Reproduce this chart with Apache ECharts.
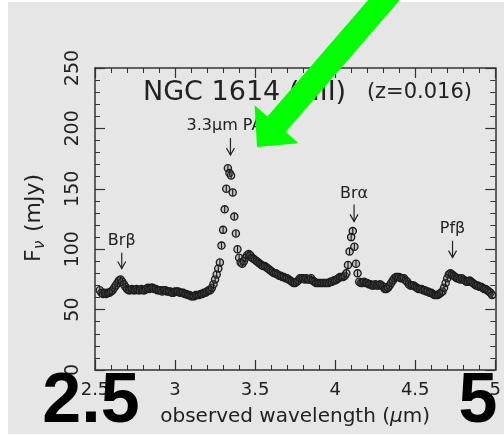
<!DOCTYPE html>
<html>
<head>
<meta charset="utf-8">
<style>
  html, body { margin: 0; padding: 0; background: #ffffff; }
  #chart { width: 504px; height: 435px; }
</style>
<script src="https://cdn.jsdelivr.net/npm/echarts@6/dist/echarts.min.js"></script>
</head>
<body>
<div id="chart"></div>
<script>
// Observed-frame spectrum of NGC 1614, 2.5-5 micron
const wavelengths = [
  2.53, 2.54, 2.55, 2.56, 2.57, 2.58, 2.59,
  2.60, 2.61, 2.62, 2.63, 2.64, 2.65, 2.66, 2.67, 2.68, 2.69,
  2.70, 2.71, 2.72, 2.73, 2.74, 2.75, 2.76, 2.77, 2.78, 2.79,
  2.80, 2.81, 2.82, 2.83, 2.84, 2.85, 2.86, 2.87, 2.88, 2.89,
  2.90, 2.91, 2.92, 2.93, 2.94, 2.95, 2.96, 2.97, 2.98, 2.99,
  3.00, 3.01, 3.02, 3.03, 3.04, 3.05, 3.06, 3.07, 3.08, 3.09,
  3.10, 3.11, 3.12, 3.13, 3.14, 3.15, 3.16, 3.17, 3.18, 3.19,
  3.20, 3.21, 3.22, 3.23, 3.24, 3.25, 3.26, 3.27, 3.28, 3.29,
  3.30, 3.31, 3.32, 3.33, 3.34, 3.35, 3.36, 3.37, 3.38, 3.39,
  3.40, 3.41, 3.42, 3.43, 3.44, 3.45, 3.46, 3.47, 3.48, 3.49,
  3.50, 3.51, 3.52, 3.53, 3.54, 3.55, 3.56, 3.57, 3.58, 3.59,
  3.60, 3.61, 3.62, 3.63, 3.64, 3.65, 3.66, 3.67, 3.68, 3.69,
  3.70, 3.71, 3.72, 3.73, 3.74, 3.75, 3.76, 3.77, 3.78, 3.79,
  3.80, 3.81, 3.82, 3.83, 3.84, 3.85, 3.86, 3.87, 3.88, 3.89,
  3.90, 3.91, 3.92, 3.93, 3.94, 3.95, 3.96, 3.97, 3.98, 3.99,
  4.00, 4.01, 4.02, 4.03, 4.04, 4.05, 4.06, 4.07, 4.08, 4.09,
  4.10, 4.11, 4.12, 4.13, 4.14, 4.15, 4.16, 4.17, 4.18, 4.19,
  4.20, 4.21, 4.22, 4.23, 4.24, 4.25, 4.26, 4.27, 4.28, 4.29,
  4.30, 4.31, 4.32, 4.33, 4.34, 4.35, 4.36, 4.37, 4.38, 4.39,
  4.40, 4.41, 4.42, 4.43, 4.44, 4.45, 4.46, 4.47, 4.48, 4.49,
  4.50, 4.51, 4.52, 4.53, 4.54, 4.55, 4.56, 4.57, 4.58, 4.59,
  4.60, 4.61, 4.62, 4.63, 4.64, 4.65, 4.66, 4.67, 4.68, 4.69,
  4.70, 4.71, 4.72, 4.73, 4.74, 4.75, 4.76, 4.77, 4.78, 4.79,
  4.80, 4.81, 4.82, 4.83, 4.84, 4.85, 4.86, 4.87, 4.88, 4.89,
  4.90, 4.91, 4.92, 4.93, 4.94, 4.95, 4.96, 4.97, 4.98
];

// Flux density F_nu in mJy at each wavelength
const fluxMJy = [
  66, 64, 63, 64, 63, 64, 64,
  65, 66, 68, 70, 72, 74, 75, 73, 71, 69,
  67, 66, 66, 67, 66, 66, 67, 66, 66, 67,
  66, 66, 67, 68, 67, 68, 68, 67, 67, 66,
  66, 66, 65, 66, 66, 65, 65, 65, 64, 64,
  65, 65, 65, 64, 64, 64, 63, 63, 62, 62,
  61, 61, 61, 62, 62, 62, 63, 63, 64, 64,
  65, 66, 66, 68, 71, 75, 79, 84, 89, 103,
  116, 133, 150, 167, 163, 161, 147, 127, 113, 100,
  93, 89, 88, 90, 93, 95, 96, 95, 93, 92,
  91, 90, 89, 88, 87, 86, 86, 85, 84, 83,
  82, 81, 80, 80, 79, 78, 78, 77, 77, 76,
  76, 75, 74, 73, 72, 72, 73, 74, 76, 76,
  76, 75, 76, 75, 75, 76, 74, 73, 72, 72,
  72, 72, 72, 72, 72, 72, 72, 73, 73, 74,
  74, 75, 76, 77, 77, 77, 78, 80, 87, 98,
  110, 115, 102, 88, 80, 73, 72, 72, 73, 72,
  72, 71, 71, 70, 70, 71, 70, 70, 71, 70,
  69, 67, 67, 68, 70, 72, 74, 76, 77, 77,
  77, 76, 76, 76, 74, 73, 71, 70, 70, 70,
  69, 68, 67, 67, 67, 66, 66, 65, 65, 64,
  64, 63, 62, 62, 62, 63, 64, 65, 68, 72,
  76, 79, 80, 79, 78, 77, 76, 76, 75, 76,
  75, 74, 73, 73, 74, 73, 72, 71, 70, 70,
  69, 69, 68, 67, 67, 66, 65, 64, 62
];

// 1-sigma flux uncertainty (mJy) drawn as the bar through each point
const fluxErr = 2.5;

// Emission features marked above the spectrum
const featureNames = ['Brβ', '3.3μm PAH', 'Brα', 'Pfβ'];
const featureWaves = [2.667, 3.346, 4.118, 4.733];
const featureLabelFlux = [107, 202, 146, 117];
const featureArrowTop = [97, 192, 137, 107];
const featureArrowBottom = [84, 178, 123, 93];

// Axis ranges and ticks
const xMin = 2.5, xMax = 5.0, xStep = 0.5;
const yMin = 0, yMax = 250, yStep = 50;

const FONT = 'DejaVu Sans';
const INK = '#222222';
const FRAME = '#333333';

const spectrum = wavelengths.map((w, i) => [w, fluxMJy[i]]);
const features = featureNames.map((n, i) => [featureWaves[i], featureLabelFlux[i], featureArrowTop[i], featureArrowBottom[i], n]);

function renderPoint(params, api) {
  const x = api.value(0), y = api.value(1);
  const c = api.coord([x, y]);
  const hi = api.coord([x, y + fluxErr]);
  const lo = api.coord([x, y - fluxErr]);
  return {
    type: 'group',
    children: [
      { type: 'circle', shape: { cx: c[0], cy: c[1], r: 3.6 },
        style: { fill: 'rgba(120,120,120,0.3)', stroke: '#1c1c1c', lineWidth: 1.3 } },
      { type: 'line', shape: { x1: c[0], y1: hi[1], x2: c[0], y2: lo[1] },
        style: { stroke: '#111', lineWidth: 1.1 } }
    ]
  };
}

function renderFeature(params, api) {
  const x = api.value(0);
  const lab = api.coord([x, api.value(1)]);
  const top = api.coord([x, api.value(2)]);
  const bot = api.coord([x, api.value(3)]);
  const name = features[params.dataIndex][4];
  return {
    type: 'group',
    children: [
      { type: 'text', x: lab[0], y: lab[1],
        style: { text: name, font: '16px "' + FONT + '"', fill: INK, align: 'center', verticalAlign: 'middle' } },
      { type: 'line', shape: { x1: top[0], y1: top[1], x2: bot[0], y2: bot[1] },
        style: { stroke: INK, lineWidth: 1.2 } },
      { type: 'polyline', shape: { points: [[bot[0] - 4, bot[1] - 7], [bot[0], bot[1]], [bot[0] + 4, bot[1] - 7]] },
        style: { stroke: INK, lineWidth: 1.2, fill: 'none' } }
    ]
  };
}

const axisCommon = {
  axisLine: { show: true, onZero: false, lineStyle: { color: FRAME, width: 1.5 } },
  axisTick: { show: true, inside: true, length: 10, lineStyle: { color: FRAME, width: 1.2 } },
  minorTick: { show: true, splitNumber: 5, length: 5, lineStyle: { color: FRAME, width: 1 } },
  splitLine: { show: false }
};

const chart = echarts.init(document.getElementById('chart'), null, { renderer: 'canvas' });

// Green pointer aimed at the PAH feature
const arrowPts = [[257, 147], [298.6, 143.3], [285.7, 132.1], [416.5, -19.3], [398.3, -34.9], [267.5, 116.5], [254.6, 105.3]];

chart.setOption({
  backgroundColor: '#ffffff',
  animation: false,
  grid: { left: 95, top: 68, right: 4, bottom: 65, containLabel: false },
  xAxis: [
    Object.assign({}, axisCommon, {
      type: 'value', position: 'bottom', min: xMin, max: xMax, interval: xStep,
      axisLabel: { show: true, margin: 11, color: INK, fontFamily: FONT, fontSize: 18 },
      name: 'observed wavelength ({i|μ}m)', nameLocation: 'middle', nameGap: 37,
      nameTextStyle: { color: INK, fontFamily: FONT, fontSize: 20,
        rich: { i: { fontStyle: 'italic', fontFamily: FONT, fontSize: 20, color: INK } } }
    }),
    Object.assign({}, axisCommon, {
      type: 'value', position: 'top', min: xMin, max: xMax, interval: xStep,
      axisLabel: { show: false }
    })
  ],
  yAxis: [
    Object.assign({}, axisCommon, {
      type: 'value', position: 'left', min: yMin, max: yMax, interval: yStep,
      axisLabel: { show: true, rotate: 90, margin: 12, color: INK, fontFamily: FONT, fontSize: 19 }
    }),
    Object.assign({}, axisCommon, {
      type: 'value', position: 'right', min: yMin, max: yMax, interval: yStep,
      axisLabel: { show: false }
    })
  ],
  graphic: [
    { type: 'rect', z: -10, silent: true, shape: { x: 8, y: 2, width: 496, height: 432 }, style: { fill: '#e6e6e6' } },
    { type: 'text', z: 5, x: 143, y: 93,
      style: { text: 'NGC 1614 (HII)', font: '27px "' + FONT + '"', fill: INK, align: 'left', verticalAlign: 'middle' } },
    { type: 'text', z: 5, x: 472, y: 93,
      style: { text: '(z=0.016)', font: '21px "' + FONT + '"', fill: INK, align: 'right', verticalAlign: 'middle' } },
    { type: 'group', z: 5, x: 34, y: 218, rotation: Math.PI / 2,
      children: [
        { type: 'text', x: -44, y: 0, style: { text: 'F', font: '22px "' + FONT + '"', fill: INK, align: 'left', verticalAlign: 'middle' } },
        { type: 'text', x: -31, y: 6, style: { text: 'ν', font: 'italic 15px "' + FONT + '"', fill: INK, align: 'left', verticalAlign: 'middle' } },
        { type: 'text', x: -14, y: 0, style: { text: '(mJy)', font: '22px "' + FONT + '"', fill: INK, align: 'left', verticalAlign: 'middle' } }
      ] },
    { type: 'polygon', z: 100, shape: { points: arrowPts }, style: { fill: '#00ff00' } },
    { type: 'text', z: 100, x: 91, y: 403,
      style: { text: '2.5', font: 'bold 70px "Liberation Sans"', fill: '#000', align: 'center', verticalAlign: 'middle' } },
    { type: 'text', z: 100, x: 478, y: 403,
      style: { text: '5', font: 'bold 70px "Liberation Sans"', fill: '#000', align: 'center', verticalAlign: 'middle' } }
  ],
  series: [
    { type: 'custom', name: 'spectrum', xAxisIndex: 0, yAxisIndex: 0,
      renderItem: renderPoint, encode: { x: 0, y: 1 }, data: spectrum, z: 3 },
    { type: 'custom', name: 'features', xAxisIndex: 0, yAxisIndex: 0,
      renderItem: renderFeature, encode: { x: 0, y: 1 }, data: features.map(f => f.slice(0, 4)), z: 4 }
  ]
});
</script>
</body>
</html>
